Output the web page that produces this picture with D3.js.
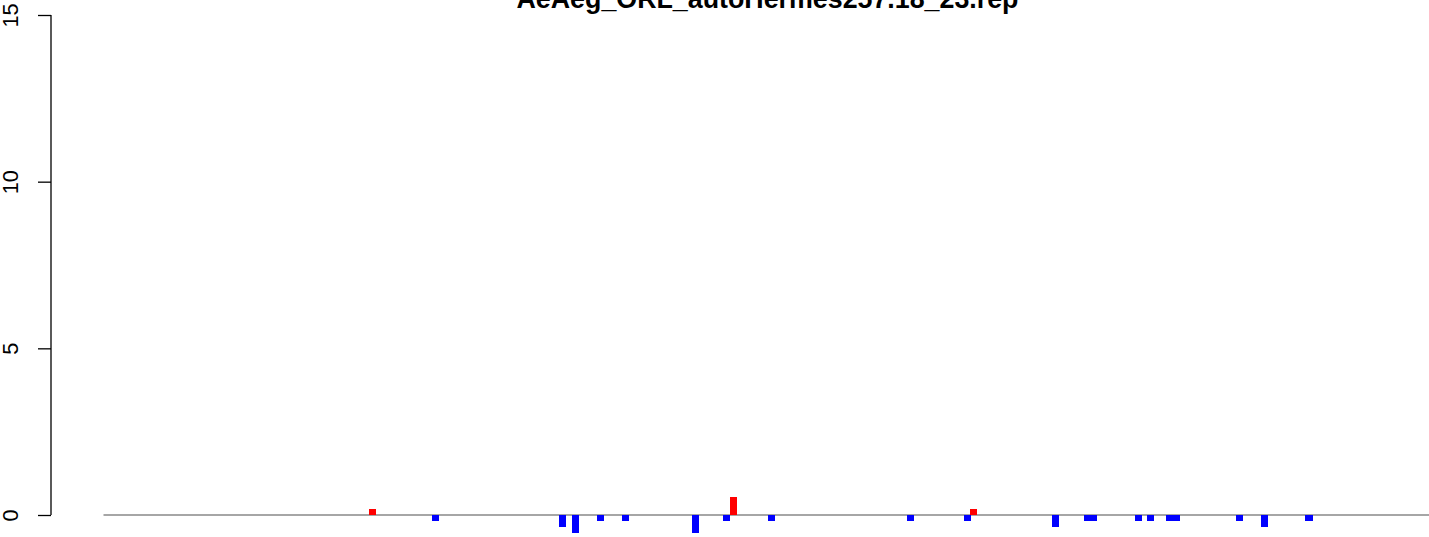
<!DOCTYPE html>
<html>
<head>
<meta charset="utf-8">
<script src="https://cdn.jsdelivr.net/npm/d3@7"></script>
<style>
  html, body { margin: 0; padding: 0; background: #ffffff; }
  svg { display: block; }
</style>
</head>
<body>
<svg id="chart" width="1429" height="537"></svg>
<script>
// ---- data ----
const chartTitle = "AeAeg_ORL_autoHermes257.18_23.rep";
const binCount = 210;
const yTicks = [0, 5, 10, 15];
const yTickLabels = ["0", "5", "10", "15"];
const upBins = [42, 99, 137];
const upValues = [0.18, 0.54, 0.18];
const downBins = [52, 72, 74, 78, 82, 93, 98, 105, 127, 136, 150, 155, 156, 163, 165, 168, 169, 179, 183, 190];
const downValues = [-0.18, -0.36, -0.54, -0.18, -0.18, -0.54, -0.18, -0.18, -0.18, -0.18, -0.36, -0.18, -0.18, -0.18, -0.18, -0.18, -0.18, -0.18, -0.36, -0.18];

// ---- layout ----
const svg = d3.select("#chart");
const font = "'Liberation Sans', Arial, Helvetica, sans-serif";
const axisX = 51;

const x = d3.scaleLinear().domain([0, binCount]).range([103.5, 1432]);
const y = d3.scaleLinear().domain([0, 15]).range([515, 15]);
const pitch = x(1) - x(0);

// baseline
svg.append("line")
  .attr("x1", x(0)).attr("x2", x(binCount))
  .attr("y1", y(0)).attr("y2", y(0))
  .attr("stroke", "#a6a6a6").attr("stroke-width", 2);

// bars
function drawBars(bins, values, color) {
  const data = bins.map((b, i) => ({ b, v: values[i] }));
  svg.append("g").selectAll("rect").data(data).join("rect")
    .attr("x", d => x(d.b))
    .attr("width", pitch + 0.7)
    .attr("y", d => Math.min(y(d.v), y(0)))
    .attr("height", d => Math.abs(y(d.v) - y(0)))
    .attr("fill", color)
    .attr("shape-rendering", "crispEdges");
}
drawBars(upBins, upValues, "#ff0000");
drawBars(downBins, downValues, "#0000ff");

// y axis
const axis = d3.axisLeft(y).tickValues(yTicks).tickSize(13).tickFormat((d, i) => yTickLabels[i]);
const gAxis = svg.append("g").attr("transform", `translate(${axisX},0)`).call(axis);
gAxis.select(".domain").attr("d", `M0,${y(15)}V${y(0)}`).attr("stroke", "#000").attr("stroke-width", 1.3);
gAxis.selectAll(".tick line").attr("stroke", "#000").attr("stroke-width", 1.3);
gAxis.selectAll(".tick text").remove();
gAxis.selectAll(".tick").append("text")
  .attr("transform", "translate(-33,0) rotate(-90)")
  .attr("text-anchor", "middle")
  .attr("fill", "#000")
  .style("font-family", font)
  .style("font-size", "21.7px")
  .text((d, i) => yTickLabels[i]);

// title
svg.append("text")
  .attr("x", 767.5).attr("y", 8)
  .attr("text-anchor", "middle")
  .style("font-family", font)
  .style("font-weight", "bold")
  .style("font-size", "26.8px")
  .attr("fill", "#000")
  .text(chartTitle);
</script>
</body>
</html>
